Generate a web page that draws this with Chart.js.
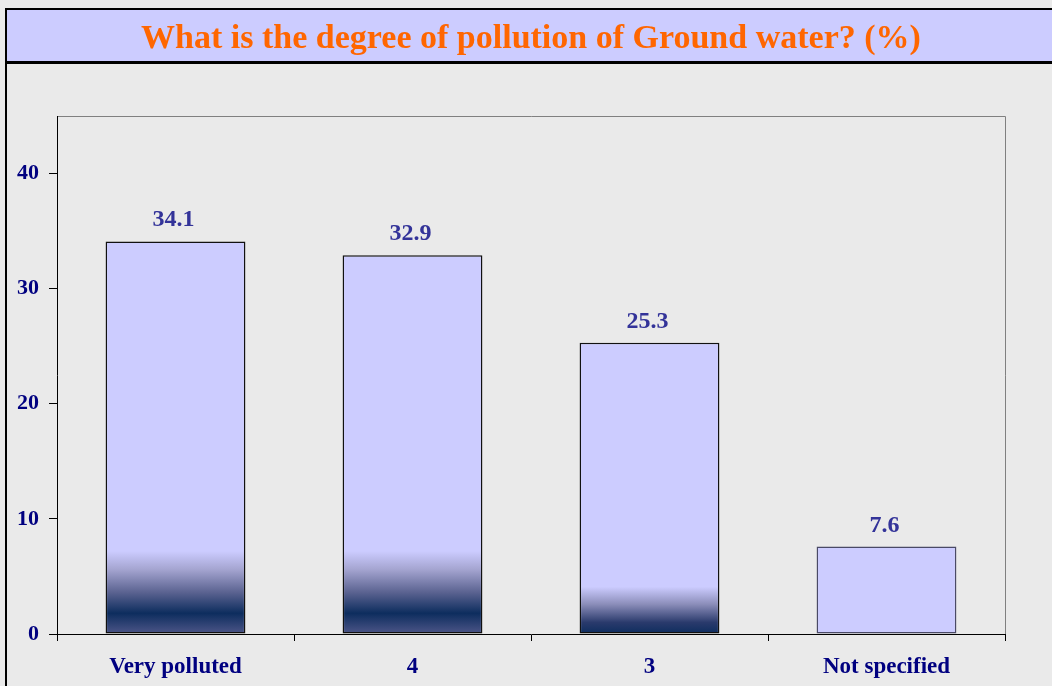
<!DOCTYPE html>
<html>
<head>
<meta charset="utf-8">
<script src="https://cdn.jsdelivr.net/npm/chart.js@4"></script>
<style>
  html, body { margin: 0; padding: 0; background: #EAEAEA; }
  #wrap { position: absolute; left: 0; top: 0; width: 1052px; height: 686px; }
</style>
</head>
<body>
<div id="wrap"><canvas id="c" width="1052" height="686"></canvas></div>
<script>
// ---- data ----
const categories = ['Very polluted', '4', '3', 'Not specified'];
const values = [34.1, 32.9, 25.3, 7.6];
const yTickValues = [0, 10, 20, 30, 40];
const titleText = 'What is the degree of pollution of Ground water? (%)';

// ---- style ----
const SERIF = '"Liberation Serif", "Times New Roman", serif';
const BAR_FILL = '#CCCCFF';
const BAR_BORDERS = ['#111111', '#111111', '#111111', '#4a4a66'];
// bottom shading of each bar: list of [value, colour] stops (value units from the axis)
const bottomShading = [
  [[7.2, '#CCCCFF'], [5.6, '#A4A4D0'], [3.6, '#5A6290'], [1.8, '#0D2D5E'], [0, '#4E5688']],
  [[7.2, '#CCCCFF'], [5.6, '#A4A4D0'], [3.6, '#5A6290'], [1.8, '#0D2D5E'], [0, '#4E5688']],
  [[4.1, '#CCCCFF'], [2.6, '#8C8EBA'], [1.0, '#2A3A6C'], [0, '#0D2D5E']],
  null
];

function barFill(ctx) {
  const chart = ctx.chart;
  const y = chart.scales.y;
  const stops = bottomShading[ctx.dataIndex];
  if (!chart.chartArea || !y || !stops) return BAR_FILL;
  const top = y.getPixelForValue(stops[0][0]);
  const bot = y.getPixelForValue(0);
  const g = chart.ctx.createLinearGradient(0, top, 0, bot);
  stops.forEach(([v, c]) => {
    const p = (y.getPixelForValue(v) - top) / (bot - top);
    g.addColorStop(Math.min(1, Math.max(0, p)), c);
  });
  return g;
}

const framePlugin = {
  id: 'frame',
  beforeDraw(chart) {
    const c = chart.ctx;
    c.save();
    c.fillStyle = '#EAEAEA';
    c.fillRect(0, 0, chart.width, chart.height);
    // title band
    c.fillStyle = '#CCCCFF';
    c.fillRect(7, 10, chart.width - 7, 51);
    c.fillStyle = '#000000';
    c.fillRect(5, 8, chart.width - 5, 2);
    c.fillRect(5, 8, 2, chart.height - 8);
    c.fillRect(5, 61, chart.width - 5, 3);
    // plot frame (top/right)
    const a = chart.chartArea;
    c.strokeStyle = '#808080';
    c.lineWidth = 1;
    c.beginPath();
    c.moveTo(a.left, a.top + 0.5);
    c.lineTo(a.right + 0.5, a.top + 0.5);
    c.lineTo(a.right + 0.5, a.bottom);
    c.stroke();
    c.restore();
  }
};

const valueLabels = {
  id: 'valueLabels',
  afterDatasetsDraw(chart) {
    const c = chart.ctx;
    const meta = chart.getDatasetMeta(0);
    c.save();
    c.font = 'bold 24px ' + SERIF;
    c.fillStyle = '#333399';
    c.textAlign = 'center';
    c.textBaseline = 'alphabetic';
    meta.data.forEach((bar, i) => {
      c.fillText(values[i].toFixed(1), bar.x - 2, bar.y - 15);
    });
    c.restore();
  }
};

new Chart(document.getElementById('c'), {
  type: 'bar',
  data: {
    labels: categories,
    datasets: [{
      data: values,
      backgroundColor: barFill,
      borderColor: BAR_BORDERS,
      borderWidth: 1.5,
      borderSkipped: false,
      barPercentage: 0.59,
      categoryPercentage: 1.0
    }]
  },
  options: {
    responsive: false,
    animation: false,
    devicePixelRatio: 1,
    layout: { padding: { left: 0, right: 47, top: 0, bottom: 0 } },
    plugins: {
      legend: { display: false },
      tooltip: { enabled: false },
      title: {
        display: true,
        text: titleText,
        fullSize: false,
        color: '#FF6600',
        font: { family: SERIF, size: 34, weight: 'bold', lineHeight: 1.2 },
        padding: { top: 19, bottom: 56.2 }
      }
    },
    scales: {
      x: {
        grid: { display: true, drawOnChartArea: false, drawTicks: true, tickLength: 7, color: '#000000', offset: true },
        border: { display: true, color: '#000000', width: 1 },
        ticks: { color: '#000080', font: { family: SERIF, size: 23, weight: 'bold' }, padding: 12, maxRotation: 0 },
        afterFit(s) { s.height = 52; }
      },
      y: {
        min: 0,
        max: 45,
        afterBuildTicks(s) { s.ticks = yTickValues.map(v => ({ value: v })); },
        grid: { display: true, drawOnChartArea: false, drawTicks: true, tickLength: 8, color: '#000000' },
        border: { display: true, color: '#000000', width: 1 },
        ticks: { color: '#000080', font: { family: SERIF, size: 22, weight: 'bold' }, padding: 10 },
        afterFit(s) { s.width = 57; }
      }
    }
  },
  plugins: [framePlugin, valueLabels]
});
</script>
</body>
</html>
